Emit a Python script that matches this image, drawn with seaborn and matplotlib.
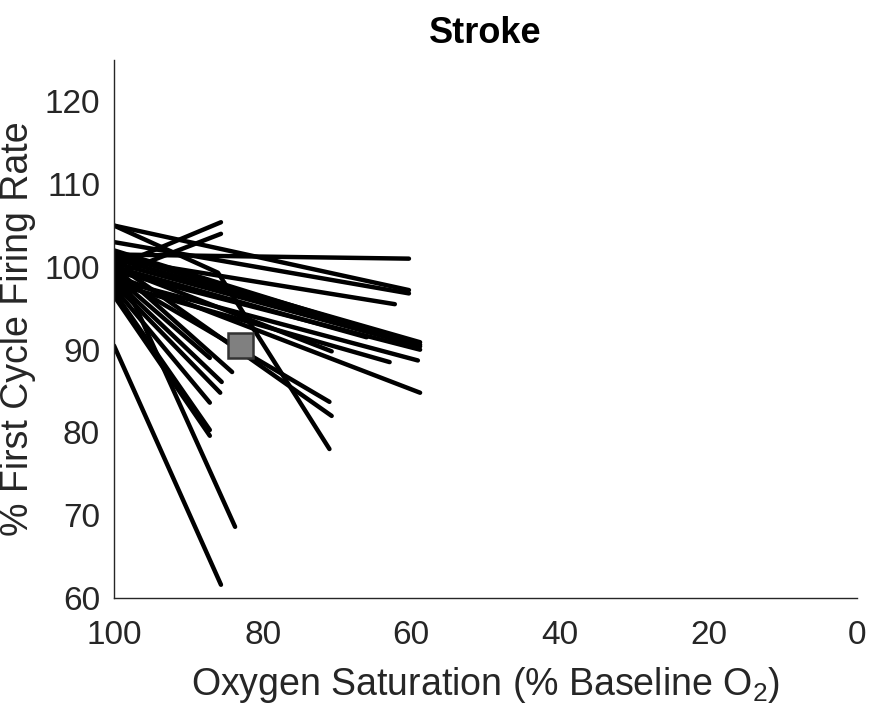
import matplotlib
matplotlib.use("Agg")
import matplotlib.pyplot as plt
import seaborn as sns
import pandas as pd

# Per-subject responses: firing rate at baseline (100 % O2) and at the lowest saturation reached
rate_start = [101.5, 105.0, 103.0, 101.0, 100.0, 99.0, 101.5, 100.5, 99.5, 98.5,
              99.0, 98.0, 100.0, 99.0, 100.5, 100.0, 99.0, 98.5, 98.0, 97.5,
              97.0, 96.5, 101.0, 90.5, 102.0, 100.0, 101.0]
sat_end = [60.3, 60.3, 60.3, 62.2, 85.6, 85.6, 58.8, 58.8, 58.8, 59.1,
           58.8, 62.9, 70.7, 71.0, 70.7, 84.1, 87.1, 85.5, 85.7, 87.1,
           87.1, 87.1, 83.7, 85.6, 64.0, 66.0, 58.8]
rate_end = [101.0, 97.2, 96.8, 95.5, 105.4, 104.0, 90.9, 90.4, 90.0, 88.7,
            84.8, 88.5, 89.8, 83.7, 82.0, 87.3, 89.0, 86.1, 84.8, 83.6,
            80.3, 79.6, 68.6, 61.6, 92.0, 91.5, 90.6]

# One subject tested at an intermediate level as well
kink_sat = [100.0, 86.0, 71.0]
kink_rate = [105.0, 99.3, 78.0]

# Group mean
mean_sat = [83.1]
mean_rate = [90.6]

x_ticks = [100, 80, 60, 40, 20, 0]
y_ticks = [60, 70, 80, 90, 100, 110, 120]

rows = []
for i, (r0, s1, r1) in enumerate(zip(rate_start, sat_end, rate_end)):
    rows.append({"subject": i, "sat": 100.0, "rate": r0})
    rows.append({"subject": i, "sat": s1, "rate": r1})
for s, r in zip(kink_sat, kink_rate):
    rows.append({"subject": len(rate_start), "sat": s, "rate": r})
df = pd.DataFrame(rows)

sns.set_theme(style="white")
plt.rcParams["font.family"] = ["Liberation Sans", "DejaVu Sans"]
plt.rcParams["mathtext.fontset"] = "custom"
plt.rcParams["mathtext.rm"] = "Liberation Sans"

fig = plt.figure(figsize=(8.72, 7.16), dpi=100)
ax = fig.add_axes([0.1307, 0.1648, 0.8521, 0.7514])

sns.lineplot(data=df, x="sat", y="rate", units="subject", estimator=None,
             sort=False, color="black", linewidth=3.2, ax=ax, legend=False)
ax.plot(mean_sat, mean_rate, marker="s", markersize=18, markerfacecolor="#808080",
        markeredgecolor="#333333", markeredgewidth=1.8, linestyle="none", zorder=5)

ax.set_xlim(100, 0)
ax.set_ylim(60, 125)
ax.set_xticks(x_ticks)
ax.set_yticks(y_ticks)
ax.tick_params(direction="in", length=6, width=1, colors="#262626", labelsize=24)
ax.tick_params(axis="x", pad=16)
ax.tick_params(axis="y", pad=10)
for side in ["top", "right"]:
    ax.spines[side].set_visible(False)
for side in ["left", "bottom"]:
    ax.spines[side].set_color("#262626")
    ax.spines[side].set_linewidth(1.0)

ax.set_xlabel("Oxygen Saturation (% Baseline O$_2$)", fontsize=27, color="#262626", labelpad=10)
ax.set_ylabel("% First Cycle Firing Rate", fontsize=27, color="#262626", labelpad=6)
ax.set_title("Stroke", fontsize=26, fontweight="bold", color="black", pad=12)

fig.savefig("out.png", dpi=100)
